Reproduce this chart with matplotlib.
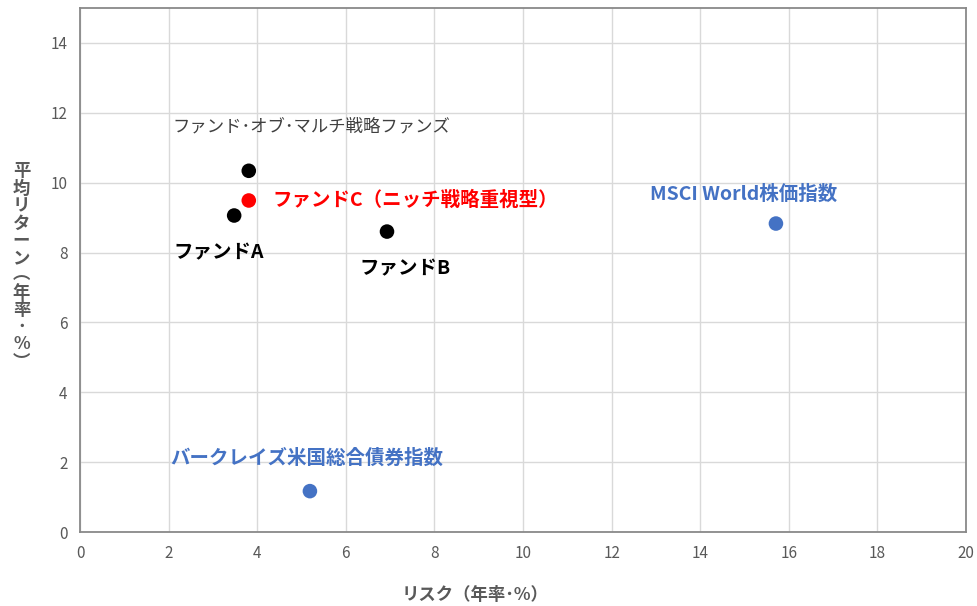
import matplotlib.pyplot as plt

plt.rcParams['font.family'] = ['Noto Sans CJK JP', 'DejaVu Sans']

# data
names = ["ファンド･オブ･マルチ戦略ファンズ", "ファンドC（ニッチ戦略重視型）", "ファンドA",
         "ファンドB", "MSCI World株価指数", "バークレイズ米国総合債券指数"]
risk = [3.81, 3.81, 3.48, 6.93, 15.71, 5.19]
ret = [10.34, 9.49, 9.06, 8.60, 8.83, 1.17]
colors = ["black", "#ff0000", "black", "black", "#4472c4", "#4472c4"]
label_colors = ["#404040", "#ff0000", "black", "black", "#4472c4", "#4472c4"]
# label offsets in points (dx, dy) and alignment
offsets = [(45, 32), (17, 0), (-11, -27), (13, -27), (-23, 21), (-2, 24)]
aligns = ["center", "left", "center", "center", "center", "center"]

fig = plt.figure(figsize=(9.78, 6.06), dpi=100)
ax = fig.add_axes([0.0818, 0.1221, 0.9059, 0.8647])

ax.scatter(risk, ret, s=110, c=colors, zorder=3, linewidths=0)

for i in range(len(names)):
    ax.annotate(names[i], (risk[i], ret[i]), xytext=offsets[i], textcoords="offset points",
                ha=aligns[i], va="center", color=label_colors[i],
                fontsize=12.5 if i == 0 else 14,
                fontweight="bold" if i != 0 else "normal")

ax.set_xlim(0, 20)
ax.set_ylim(0, 15)
ax.set_xticks(range(0, 21, 2))
ax.set_yticks(range(0, 15, 2))
ax.grid(True, color="#d9d9d9", linewidth=1)
ax.set_axisbelow(True)
ax.tick_params(length=0, labelsize=11, colors="#595959", pad=9)
for s in ax.spines.values():
    s.set_color("#898989")
    s.set_linewidth(1.3)

ax.set_xlabel("リスク（年率･%）", fontsize=12.5, fontweight="bold", color="#595959")
ax.xaxis.set_label_coords(0.446, -0.103)
ylab = "平均リターン︵年率･%︶"
fig.text(0.022, 0.56, "\n".join(ylab), ha="center", va="center", fontsize=12.5,
         fontweight="bold", color="#595959", linespacing=0.95)

fig.savefig("out.png", dpi=100)
